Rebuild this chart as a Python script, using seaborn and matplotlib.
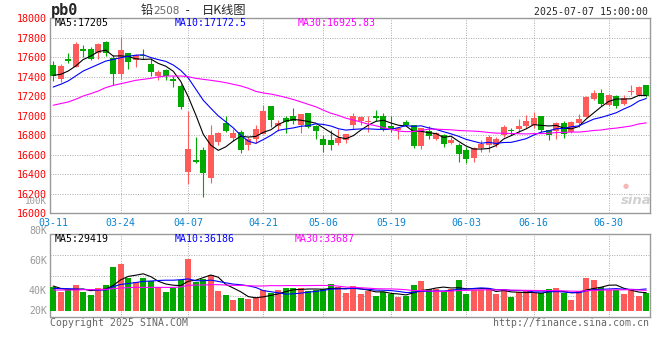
import numpy as np
import pandas as pd
import seaborn as sns
import matplotlib.pyplot as plt

W, H = 660, 360
RED = "#FF5B5B"
GREEN = "#00A800"

# ------------ DATA ------------
opens = [17520, 17381, 17582, 17503, 17684, 17687, 17640, 17756, 17592, 17432,
         17640, 17568, 17626, 17534, 17408, 17469, 17381, 17306, 16419, 16549,
         16651, 16358, 16736, 16924, 16777, 16835, 16699, 16766, 16817, 17098,
         16898, 16973, 17003, 16902, 17024, 16895, 16759, 16753, 16725, 16753,
         16902, 16942, 16936, 17003, 17003, 16892, 16851, 16932, 16902, 16692,
         16844, 16759, 16800, 16720, 16703, 16651, 16565, 16668, 16703, 16696,
         16799, 16857, 16864, 16895, 16902, 16998, 16857, 16840, 16929, 16833,
         16929, 16987, 17169, 17238, 17107, 17203, 17118, 17248, 17217, 17313]
highs = [17561, 17527, 17640, 17759, 17725, 17708, 17745, 17769, 17619, 17807,
         17647, 17633, 17688, 17592, 17469, 17476, 17408, 17323, 17050, 16784,
         16675, 16907, 16835, 16999, 16862, 16856, 16784, 16902, 17115, 17105,
         16953, 16997, 17081, 17017, 17027, 16908, 16800, 16851, 16868, 16817,
         17030, 17003, 17003, 17058, 17030, 16993, 16878, 16953, 16908, 16878,
         16895, 16834, 16817, 16782, 16723, 16679, 16679, 16747, 16799, 16782,
         16908, 16874, 16963, 17004, 17039, 16998, 16857, 16936, 16943, 16943,
         17022, 17200, 17262, 17272, 17221, 17210, 17210, 17313, 17303, 17313]
lows = [17357, 17346, 17537, 17496, 17602, 17572, 17578, 17612, 17312, 17381,
        17483, 17503, 17578, 17408, 17367, 17367, 17295, 17074, 16296, 16515,
        16163, 16306, 16699, 16835, 16743, 16620, 16647, 16725, 16810, 16885,
        16841, 16827, 16912, 16827, 16875, 16759, 16630, 16651, 16698, 16725,
        16861, 16902, 16834, 16946, 16844, 16834, 16766, 16895, 16671, 16664,
        16766, 16749, 16681, 16713, 16531, 16514, 16524, 16627, 16627, 16682,
        16782, 16799, 16833, 16874, 16874, 16833, 16747, 16764, 16775, 16826,
        16884, 16987, 17159, 17097, 17097, 17083, 17111, 17210, 17210, 17193]
closes = [17408, 17510, 17565, 17735, 17667, 17585, 17735, 17647, 17432, 17674,
          17554, 17619, 17612, 17452, 17452, 17408, 17360, 17091, 16661, 16528,
          16409, 16804, 16825, 16845, 16825, 16654, 16760, 16861, 17054, 16953,
          16929, 16936, 16942, 17014, 16885, 16844, 16698, 16698, 16776, 16810,
          17003, 16986, 16946, 16973, 16861, 16864, 16871, 16908, 16692, 16871,
          16793, 16824, 16712, 16754, 16610, 16552, 16668, 16710, 16782, 16764,
          16884, 16840, 16895, 16946, 16980, 16850, 16806, 16926, 16812, 16936,
          16970, 17193, 17238, 17125, 17210, 17097, 17186, 17258, 17296, 17203]
volume_k = [39.4, 30.8, 35.1, 42.1, 30.8, 25.9, 37.3, 42.1, 71.3, 76.1,
            53.5, 47.0, 53.5, 48.6, 38.9, 30.8, 37.3, 50.2, 84.2, 47.0,
            51.8, 58.3, 32.4, 25.9, 17.8, 21.1, 19.4, 22.7, 34.0, 29.2,
            34.0, 37.3, 37.3, 37.3, 32.4, 34.0, 35.6, 43.7, 38.3, 29.7,
            40.5, 27.5, 32.9, 24.3, 30.8, 27.5, 22.7, 24.8, 42.1, 48.6,
            35.6, 35.1, 32.4, 35.1, 50.2, 27.5, 34.0, 34.0, 35.1, 27.5,
            35.6, 22.7, 31.3, 32.4, 28.6, 28.6, 35.6, 37.3, 28.6, 17.8,
            32.4, 53.5, 50.2, 38.9, 34.0, 34.0, 27.5, 34.0, 24.3, 28.6]

# MA values before a full window exists (taken from the chart lines)
ma5_lead = [17415, 17425, 17459, 17510]
ma10_lead = [17295, 17323, 17357, 17408, 17459, 17493, 17527, 17561, 17578]
ma30_lead = [17108, 17125, 17142, 17169, 17203, 17227, 17254, 17289, 17312, 17329,
             17346, 17364, 17374, 17384, 17398, 17408, 17408, 17408, 17401, 17384,
             17374, 17364, 17353, 17340, 17323, 17306, 17282, 17250, 17234]
vma5_lead = [40.5, 36.7, 35.1, 35.1]
vma10_lead = [36.7, 36.2, 36.2, 35.6, 35.1, 34.6, 34.0, 34.0, 39.4]
vma30_lead = [34.0, 34.0, 34.0, 34.0, 34.6, 34.6, 34.6, 35.1, 36.2, 37.3,
              37.8, 38.3, 38.3, 38.3, 38.3, 38.3, 38.3, 38.9, 41.6, 42.1,
              42.1, 42.7, 42.7, 42.1, 41.6, 41.6, 41.0, 40.5, 40.5]

date_idx = [0, 9, 18, 28, 36, 45, 55, 64, 74]
date_labels = ["03-11", "03-24", "04-07", "04-21", "05-06", "05-19", "06-03", "06-16", "06-30"]
price_ticks = list(range(16000, 18001, 200))
vol_labels = ["100K", "80K", "60K", "40K", "20K"]
# -----------------------------------------------------


def moving(values, n, lead):
    out = pd.Series(values, dtype=float).rolling(n).mean().to_numpy()
    out[:n - 1] = lead
    return out


df = pd.DataFrame({"open": opens, "high": highs, "low": lows, "close": closes, "vol": volume_k})
df["i"] = np.arange(len(df))
df["dir"] = np.where(df["close"] >= df["open"], "up", "down")
colors = np.where(df["dir"] == "up", RED, GREEN)

sns.set_style("white")
plt.rcParams["font.family"] = ["DejaVu Sans Mono", "Noto Sans CJK SC"]

fig = plt.figure(figsize=(6.6, 3.6), dpi=100)


def box(left, top, right, bottom):
    return [left / W, 1 - bottom / H, (right - left) / W, (bottom - top) / H]


def T(x, y, s, **kw):
    kw.setdefault("fontsize", 7.1)
    kw.setdefault("va", "center")
    fig.text(x / W, 1 - y / H, s, **kw)


ax = fig.add_axes(box(50.5, 18.3, 650, 213.3))
axv = fig.add_axes(box(50.5, 234.3, 650, 317))
XLIM = (-0.35, 79.5)
grid_kw = dict(color="#AAAAAA", lw=0.7, ls=(0, (1, 1.5)), zorder=1)

# ----- price panel -----
body_lo = np.minimum(df["open"], df["close"])
body_h = np.maximum((df["close"] - df["open"]).abs(), 10)
ax.vlines(df["i"], df["low"], df["high"], colors=colors, lw=0.8, zorder=2)
ax.bar(df["i"], body_h, bottom=body_lo, width=0.8, color=colors, linewidth=0, zorder=3)

for ma, col in [(moving(closes, 5, ma5_lead), "black"),
                (moving(closes, 10, ma10_lead), "#0000FF"),
                (moving(closes, 30, ma30_lead), "#FF00FF")]:
    sns.lineplot(x=df["i"], y=ma, ax=ax, color=col, linewidth=0.8, zorder=4)

for p in price_ticks[1:-1]:
    ax.axhline(p, **grid_kw)
for d in date_idx[1:]:
    ax.axvline(d, **grid_kw)
    axv.axvline(d, **grid_kw)

ax.set_xlim(*XLIM)
ax.set_ylim(16000, 18000)
ax.set_yticks(price_ticks)
ax.set_xticks(date_idx)
ax.set_xticklabels(date_labels)
ax.tick_params(axis="y", length=0, pad=2.8, labelsize=7.2, labelcolor="#FF0000")
ax.tick_params(axis="x", length=0, pad=3.2, labelsize=7.1, labelcolor="#0A84D0")
ax.set_xlabel("")
ax.set_ylabel("")

# ----- volume panel -----
sns.barplot(data=df, x="i", y="vol", hue="dir", palette={"up": RED, "down": GREEN},
            dodge=False, width=0.8, saturation=1, errorbar=None, legend=False,
            linewidth=0, ax=axv, zorder=3)
for ma, col in [(moving(volume_k, 5, vma5_lead), "black"),
                (moving(volume_k, 10, vma10_lead), "#0000FF"),
                (moving(volume_k, 30, vma30_lead), "#FF00FF")]:
    sns.lineplot(x=df["i"], y=ma, ax=axv, color=col, linewidth=0.8, zorder=4)

VLIM = (-9.7, 124.3)
axv.set_xlim(*XLIM)
axv.set_ylim(*VLIM)
for q in (0.25, 0.5, 0.75):
    axv.axhline(VLIM[0] + (VLIM[1] - VLIM[0]) * q, **grid_kw)
axv.set_xticks([])
axv.set_yticks([])
axv.set_xlabel("")
axv.set_ylabel("")

for a in (ax, axv):
    for s in a.spines.values():
        s.set_color("#999999")
        s.set_linewidth(1)

# ----- texts -----
T(51, 11, "pb0", fontsize=11, fontweight="bold")
T(140.5, 10.5, "铅", family=["Noto Sans CJK SC"], fontsize=8.8)
T(153, 10.5, "2508", family=["DejaVu Sans"], color="#666666", fontsize=7.5)
T(184, 10.5, "-", fontsize=8.8)
T(201.5, 10.5, "日K线图", family=["Noto Sans CJK SC"], fontsize=8.8)
T(648, 11.7, "2025-07-07 15:00:00", ha="right")

T(54.5, 23.5, "MA5:17205", color="black")
T(175, 23.5, "MA10:17172.5", color="#0000FF")
T(297.5, 23.5, "MA30:16925.83", color="#FF00FF")

T(54.5, 238.5, "MA5:29419", color="black")
T(175, 238.5, "MA10:36186", color="#0000FF")
T(295, 238.5, "MA30:33687", color="#FF00FF")

T(47, 202, vol_labels[0], ha="right", color="#999999", fontsize=6.6)
for lab, y in zip(vol_labels[1:], [231, 261, 291, 311]):
    T(47, y, lab, ha="right", color="#999999")

T(50, 323.5, "Copyright 2025 SINA.COM", color="#666666")
T(649, 323.5, "http://finance.sina.com.cn", ha="right", color="#666666")

T(626, 186, "●", family=["DejaVu Sans"], fontsize=5, color="#F6B8B8", ha="center")
T(636, 200.5, "sina", family=["DejaVu Sans"], fontsize=9.5, style="italic",
  fontweight="bold", color="#D0D0D0", ha="center")

fig.savefig("out.png", dpi=100)
